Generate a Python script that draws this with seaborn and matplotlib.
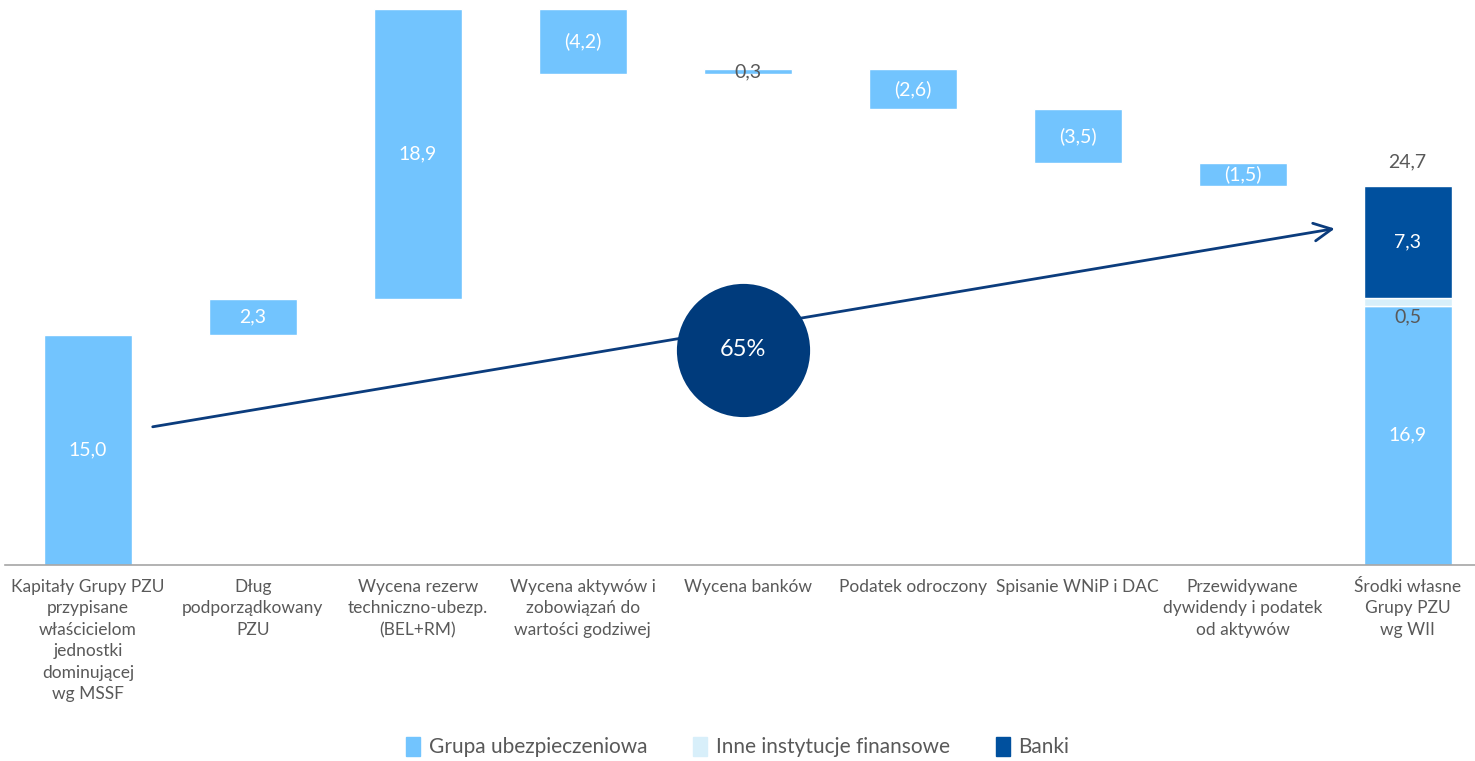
import matplotlib
matplotlib.use('Agg')
import matplotlib.pyplot as plt
from matplotlib.patches import Patch
import pandas as pd
import seaborn as sns

# waterfall data (values in bln PLN)
categories = ['Kapitały Grupy PZU\nprzypisane\nwłaścicielom\njednostki\ndominującej\nwg MSSF',
              'Dług\npodporządkowany\nPZU',
              'Wycena rezerw\ntechniczno-ubezp.\n(BEL+RM)',
              'Wycena aktywów i\nzobowiązań do\nwartości godziwej',
              'Wycena banków',
              'Podatek odroczony',
              'Spisanie WNiP i DAC',
              'Przewidywane\ndywidendy i podatek\nod aktywów',
              'Środki własne\nGrupy PZU\nwg WII']
changes = [15.0, 2.3, 18.9, -4.2, 0.3, -2.6, -3.5, -1.5]
final_group = 16.9
final_other = 0.5
final_banks = 7.3
final_total = 24.7
share_label = '65%'

c_group = '#72C4FE'
c_other = '#D8EFFA'
c_banks = '#00509E'
c_arrow = '#0B3C7D'
c_circle = '#003B7C'
c_text = '#595959'

# build bottoms / heights
bottoms, heights = [], []
level = 0.0
for v in changes:
    if v >= 0:
        bottoms.append(level)
        heights.append(v)
    else:
        bottoms.append(level + v)
        heights.append(-v)
    level += v
bottoms.append(0.0)
heights.append(final_group)
df = pd.DataFrame({'cat': categories, 'bottom': bottoms, 'height': heights})

sns.set_style('white')
plt.rcParams['font.family'] = ['Lato', 'DejaVu Sans']

fig = plt.figure(figsize=(14.75, 7.61), dpi=100)
ax = fig.add_axes([0.0037, 0.2576, 0.9976, 0.7424])

sns.barplot(data=df, x='cat', y='height', bottom=df['bottom'].values, order=categories,
            color=c_group, saturation=1, width=0.535, errorbar=None, ax=ax, zorder=2)
df_o = pd.DataFrame({'cat': [categories[-1]], 'height': [final_other]})
sns.barplot(data=df_o, x='cat', y='height', bottom=[final_group], order=categories,
            color=c_other, saturation=1, width=0.535, errorbar=None, ax=ax, zorder=2)
df_b = pd.DataFrame({'cat': [categories[-1]], 'height': [final_banks]})
sns.barplot(data=df_b, x='cat', y='height', bottom=[final_group + final_other], order=categories,
            color=c_banks, saturation=1, width=0.535, errorbar=None, ax=ax, zorder=2)

# value labels
for i, v in enumerate(changes):
    mid = bottoms[i] + heights[i] / 2
    txt = f'{abs(v):.1f}'.replace('.', ',')
    if v < 0:
        txt = f'({txt})'
    col = c_text if abs(v) < 1 else 'white'
    ax.text(i, mid, txt, ha='center', va='center', fontsize=14, color=col, zorder=5)
n = len(categories) - 1
ax.text(n, final_group / 2, f'{final_group:.1f}'.replace('.', ','), ha='center', va='center',
        fontsize=14, color='white', zorder=5)
ax.text(n, final_group - 0.75, f'{final_other:.1f}'.replace('.', ','), ha='center', va='center',
        fontsize=14, color=c_text, zorder=5)
ax.text(n, final_group + final_other + final_banks / 2, f'{final_banks:.1f}'.replace('.', ','),
        ha='center', va='center', fontsize=14, color='white', zorder=5)
ax.text(n, final_total + 1.0, f'{final_total:.1f}'.replace('.', ','), ha='center', va='bottom',
        fontsize=14, color=c_text, zorder=5)

# arrow and share circle
ax.annotate('', xy=(7.575, 21.94), xytext=(0.376, 8.97),
            arrowprops=dict(arrowstyle='->', color=c_arrow, lw=2, mutation_scale=32), zorder=3)
ax.scatter([3.97], [14.01], s=9200, color=c_circle, zorder=4, linewidths=0)
ax.text(3.97, 14.01, share_label, ha='center', va='center', fontsize=17, color='white', zorder=5)

ax.set_xlim(-0.5, 8.42)
ax.set_ylim(0, 36.8)
ax.set_xlabel('')
ax.set_ylabel('')
ax.set_yticks([])
ax.tick_params(axis='x', length=0, pad=10, labelsize=12.5, labelcolor=c_text)
for lab in ax.get_xticklabels():
    lab.set_linespacing(1.42)
for s in ['top', 'left', 'right']:
    ax.spines[s].set_visible(False)
ax.spines['bottom'].set_color('#A6A6A6')
ax.spines['bottom'].set_linewidth(1.2)

handles = [Patch(color=c_group, label='Grupa ubezpieczeniowa'),
           Patch(color=c_other, label='Inne instytucje finansowe'),
           Patch(color=c_banks, label='Banki')]
leg = fig.legend(handles=handles, loc='lower center', bbox_to_anchor=(0.5, -0.02), ncol=3,
                 frameon=False, fontsize=15, handlelength=0.7, handleheight=1.0,
                 handletextpad=0.4, columnspacing=2.2)
for t in leg.get_texts():
    t.set_color(c_text)

fig.savefig('out.png', dpi=100)
